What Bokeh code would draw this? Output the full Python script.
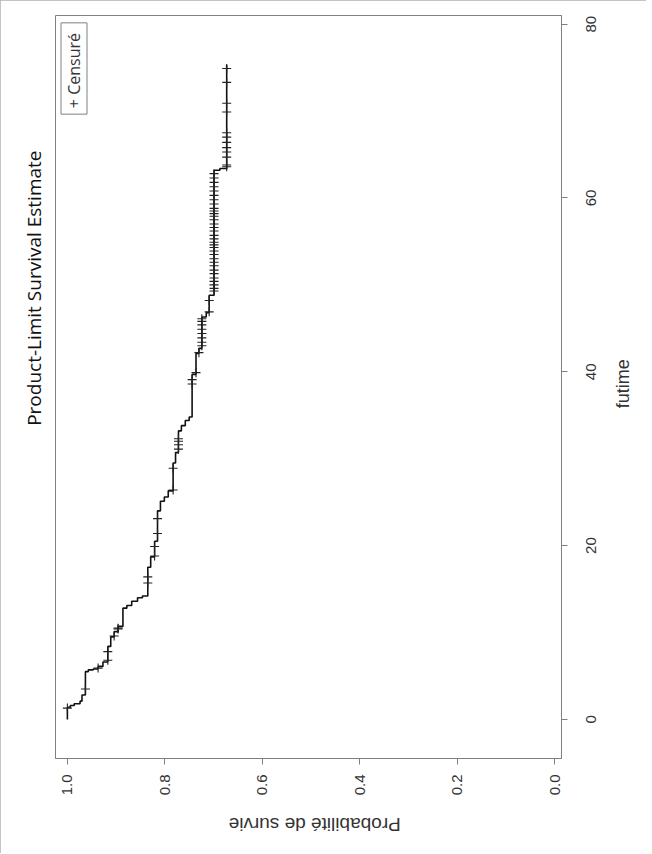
import math
from bokeh.plotting import figure
from bokeh.models import Range1d, FixedTicker, Label, LinearAxis, Title
from bokeh.embed import file_html
from bokeh.resources import INLINE

# ---- data ----
event_times = [1.4, 1.6, 1.8, 2.1, 2.8, 5.5, 5.7, 5.8, 6.1, 6.6, 8.4, 9.5, 10.1, 10.7,
               12.8, 13.1, 13.6, 14.0, 14.2, 17.5, 18.7, 20.5, 24.0, 25.1, 25.6, 26.3,
               29.5, 30.7, 33.2, 33.8, 34.4, 34.8, 39.7, 42.1, 42.7, 46.3, 46.8, 48.8,
               63.2, 63.4]
survival = [0.994, 0.986, 0.974, 0.970, 0.963, 0.957, 0.947, 0.937, 0.927, 0.917, 0.911,
            0.904, 0.896, 0.886, 0.878, 0.868, 0.856, 0.846, 0.835, 0.829, 0.821, 0.815,
            0.809, 0.801, 0.793, 0.783, 0.778, 0.772, 0.766, 0.758, 0.750, 0.744, 0.736,
            0.730, 0.724, 0.715, 0.709, 0.699, 0.687, 0.673]
end_time = 75.3
censor_times = [1.3, 3.5, 5.9, 6.8, 7.8, 9.6, 10.4, 10.5, 15.7, 16.4, 18.8, 19.9, 21.4,
                23.1, 26.4, 28.9, 31.1, 31.6, 32.0, 32.3, 38.6, 39.1, 39.9, 42.2, 43.0,
                43.4, 43.9, 44.4, 44.9, 45.4, 45.8, 46.1, 46.9, 48.2, 49.3, 49.6, 50.0,
                50.4, 50.8, 51.3, 51.7, 52.2, 52.6, 53.0, 53.5, 53.9, 54.3, 54.6, 54.9,
                55.3, 55.7, 56.2, 56.6, 57.0, 57.5, 57.9, 58.2, 58.5, 58.8, 59.3, 59.8,
                60.3, 60.8, 61.3, 61.8, 62.3, 62.8, 63.6, 63.8, 64.7, 65.3, 65.8, 66.4,
                67.0, 67.5, 69.9, 70.9, 73.3, 74.9]
time_ticks = [0, 20, 40, 60, 80]
time_tick_labels = ["0", "20", "40", "60", "80"]
prob_ticks = [0.0, 0.2, 0.4, 0.6, 0.8, 1.0]
prob_tick_labels = ["0.0", "0.2", "0.4", "0.6", "0.8", "1.0"]

title_text = "Product-Limit Survival Estimate"
time_label = "futime"
prob_label = "Probabilité de survie"
legend_text = "+  Censuré"

# ---- step path (rotated: survival on x, time on y) ----
path_t = [0.0]
path_s = [1.0]
cur = 1.0
for t, s in zip(event_times, survival):
    path_t += [t, t]
    path_s += [cur, s]
    cur = s
path_t.append(end_time)
path_s.append(cur)


def surv_at(t):
    s = 1.0
    for et, sv in zip(event_times, survival):
        if et <= t:
            s = sv
    return s


censor_s = [surv_at(t) for t in censor_times]

# ---- layout constants ----
FONT = "Liberation Sans"
TFONT = "Open Sans"
GRAY = "#808080"
W, H = 646, 853
BL, BR, BT, BB = 55, 80, 15, 95
T0, T1 = -4.5, 81.0
P0, P1 = 1.0244, -0.0142
frame_h = H - BT - BB
px_per_t = frame_h / (T1 - T0)
TICK_FS = 15
DIGIT_W = 0.556 * TICK_FS          # Liberation Sans digit advance
TIME_LABEL_AT = 35.8               # start of the rotated "futime" text
PROB_LABEL_AT = 0.669              # start of the upside-down axis title

# rotated tick labels start at their anchor: shift anchors by half the text length
time_label_pos = [t - len(l) * DIGIT_W / 2 / px_per_t for t, l in zip(time_ticks, time_tick_labels)]

p = figure(width=W, height=H,
           x_range=Range1d(P0, P1), y_range=Range1d(T0, T1),
           y_axis_location="right", x_axis_location="below",
           output_backend="svg", toolbar_location=None,
           min_border_left=BL, min_border_right=BR, min_border_top=BT, min_border_bottom=BB,
           styles={"outline": "1px solid #b0b0b0", "outline-offset": "-1px"})
p.grid.visible = False
p.outline_line_color = GRAY
p.background_fill_color = "white"
p.border_fill_color = "white"

xa = p.xaxis[0]
xa.ticker = FixedTicker(ticks=prob_ticks)
xa.major_label_overrides = {t: l for t, l in zip(prob_ticks, prob_tick_labels)}
xa.major_label_orientation = math.pi / 2
xa.major_label_standoff = 10
xa.major_label_text_font = FONT
xa.major_label_text_font_size = f"{TICK_FS}px"
xa.major_label_text_color = "#333333"

# time axis: tick marks only
ya = p.yaxis[0]
ya.ticker = FixedTicker(ticks=time_ticks)
ya.major_label_overrides = {t: "" for t in time_ticks}
ya.major_label_text_font_size = "1px"
ya.major_label_standoff = 0

for ax in (xa, ya):
    ax.minor_tick_line_color = None
    ax.major_tick_in = 0
    ax.major_tick_out = 6
    ax.major_tick_line_color = GRAY
    ax.axis_line_color = GRAY

# time axis tick labels, centred on their ticks
time_lab_axis = LinearAxis(ticker=FixedTicker(ticks=time_label_pos),
                           major_label_overrides={q: l for q, l in zip(time_label_pos, time_tick_labels)},
                           major_label_orientation=math.pi / 2,
                           major_label_standoff=24,
                           major_tick_in=0, major_tick_out=0,
                           major_tick_line_color=None, minor_tick_line_color=None,
                           axis_line_color=None,
                           major_label_text_font=FONT, major_label_text_font_size=f"{TICK_FS}px",
                           major_label_text_color="#333333")
p.add_layout(time_lab_axis, "right")

# axis titles, turned with the chart
time_title_axis = LinearAxis(ticker=FixedTicker(ticks=[TIME_LABEL_AT]),
                             major_label_overrides={TIME_LABEL_AT: time_label},
                             major_label_orientation=math.pi / 2,
                             major_label_standoff=19,
                             major_tick_in=0, major_tick_out=0,
                             major_tick_line_color=None, minor_tick_line_color=None,
                             axis_line_color=None,
                             major_label_text_font=FONT, major_label_text_font_size="18px",
                             major_label_text_color="#333333")
p.add_layout(time_title_axis, "right")

prob_title_axis = LinearAxis(ticker=FixedTicker(ticks=[PROB_LABEL_AT]),
                             major_label_overrides={PROB_LABEL_AT: prob_label},
                             major_label_orientation=math.pi,
                             major_label_standoff=20,
                             major_tick_line_color=None, minor_tick_line_color=None,
                             axis_line_color=None,
                             major_label_text_font=FONT, major_label_text_font_size="19px",
                             major_label_text_color="#333333")
p.add_layout(prob_title_axis, "below")

p.add_layout(Title(text=title_text, align="right", offset=135, standoff=18, text_font=TFONT,
                   text_font_size="19px", text_font_style="normal", text_color="#111111"),
             "left")

p.line(path_s, path_t, line_color="#111111", line_width=1.6)
p.scatter(censor_s, censor_times, marker="cross", size=9, line_color="#222222",
          line_width=1.1)

p.add_layout(Label(x=18.5, y=690, x_units="screen", y_units="screen", text=legend_text,
                   angle=math.pi / 2, text_align="center", text_baseline="middle",
                   text_font=TFONT, text_font_size="16px", text_color="#333333",
                   border_line_color=GRAY, background_fill_color="white", padding=(6, 2)))

open("out.html", "w").write(file_html(p, INLINE))
